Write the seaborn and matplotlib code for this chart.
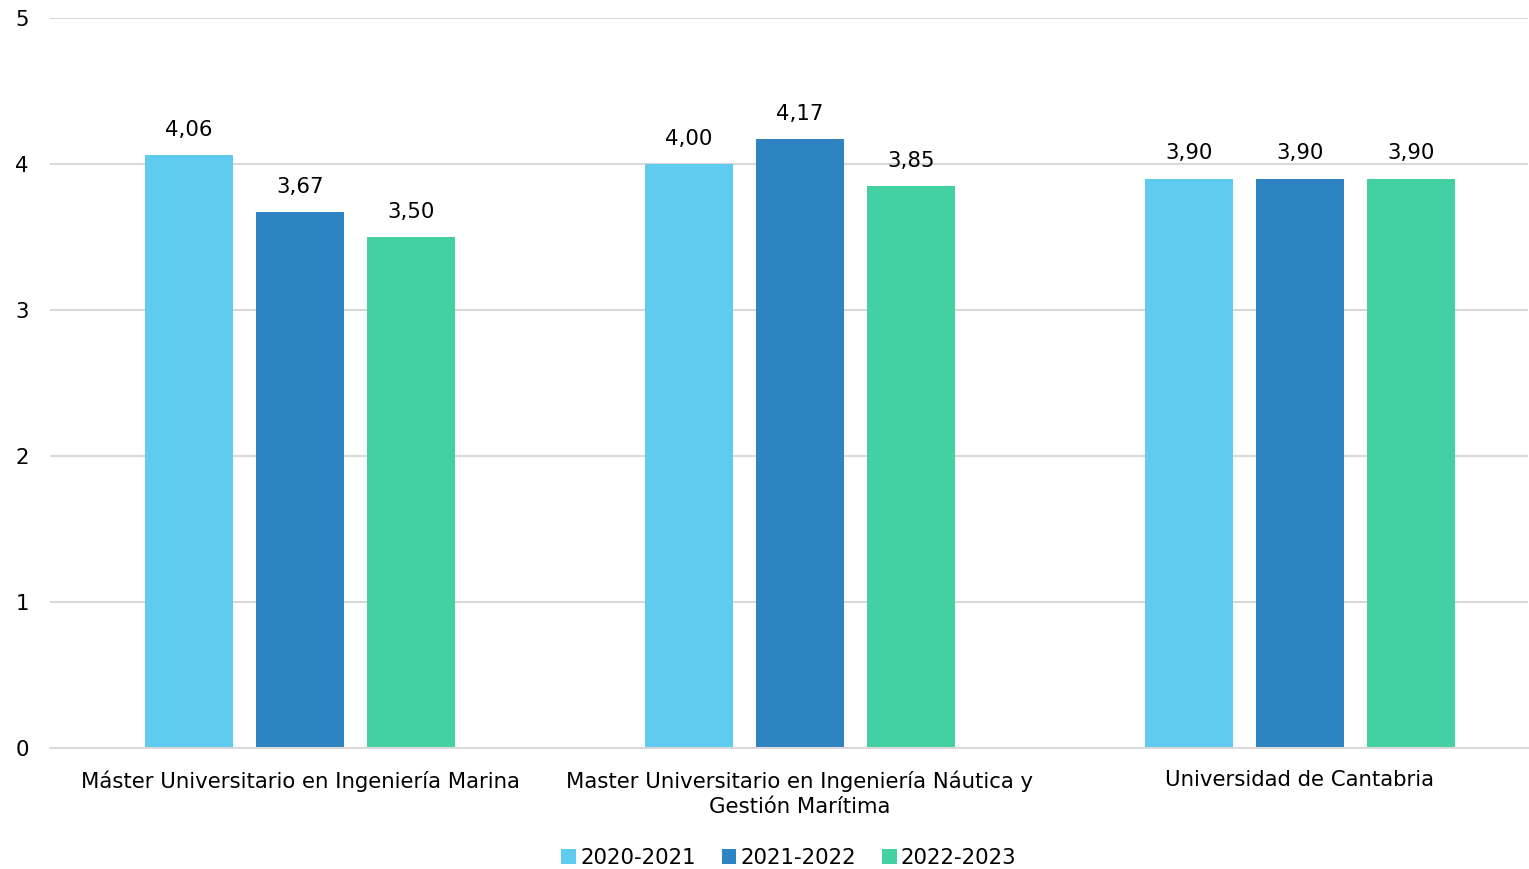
import matplotlib
matplotlib.use('Agg')
import matplotlib.pyplot as plt
import seaborn as sns
import pandas as pd

categories = ['Máster Universitario en Ingeniería Marina',
              'Master Universitario en Ingeniería Náutica y\nGestión Marítima',
              'Universidad de Cantabria']
years = ['2020-2021', '2021-2022', '2022-2023']
v_2020 = [4.06, 4.00, 3.90]
v_2021 = [3.67, 4.17, 3.90]
v_2022 = [3.50, 3.85, 3.90]
colors = ['#5FCBEF', '#2E83C3', '#43D1A3']

rows = []
for yr, vals in zip(years, [v_2020, v_2021, v_2022]):
    for c, v in zip(categories, vals):
        rows.append({'cat': c, 'year': yr, 'value': v})
df = pd.DataFrame(rows)

sns.set_style('white')
plt.rcParams['font.family'] = ['DejaVu Sans']
plt.rcParams['text.color'] = '#000000'

fig = plt.figure(figsize=(15.29, 8.69), dpi=100)
ax = fig.add_axes([50/1529, 1-748/869, 1478/1529, 730/869])

sns.barplot(data=df, x='cat', y='value', hue='year', palette=colors,
            width=0.666, gap=0.216, ax=ax, saturation=1, linewidth=0)

for cont in ax.containers:
    ax.bar_label(cont, labels=[f'{v:.2f}'.replace('.', ',') for v in cont.datavalues],
                 padding=11, fontsize=15.3, color='#000000')

ax.set_ylim(0, 5)
ax.set_xlim(-0.5, 2.456)
ax.set_yticks([0, 1, 2, 3, 4, 5])
ax.yaxis.grid(True, color='#D9D9D9', linewidth=1.5)
ax.set_axisbelow(True)
for s in ['top', 'right', 'left']:
    ax.spines[s].set_visible(False)
ax.spines['bottom'].set_color('#D9D9D9')
ax.spines['bottom'].set_linewidth(1.5)
ax.tick_params(axis='y', length=0, labelsize=15.3, pad=25, labelcolor='#000000')
ax.tick_params(axis='x', length=0, labelsize=15.3, pad=16, labelcolor='#000000')
for t in ax.get_yticklabels():
    t.set_horizontalalignment('left')
for t in ax.get_xticklabels():
    t.set_linespacing(1.35)
ax.set_xlabel('')
ax.set_ylabel('')

ax.legend(loc='lower center', bbox_to_anchor=(0.5, -0.19), ncol=3,
          frameon=False, fontsize=15.3, handlelength=0.7, handleheight=0.7,
          handletextpad=0.2, columnspacing=1.2)

fig.savefig('out.png', dpi=100)
